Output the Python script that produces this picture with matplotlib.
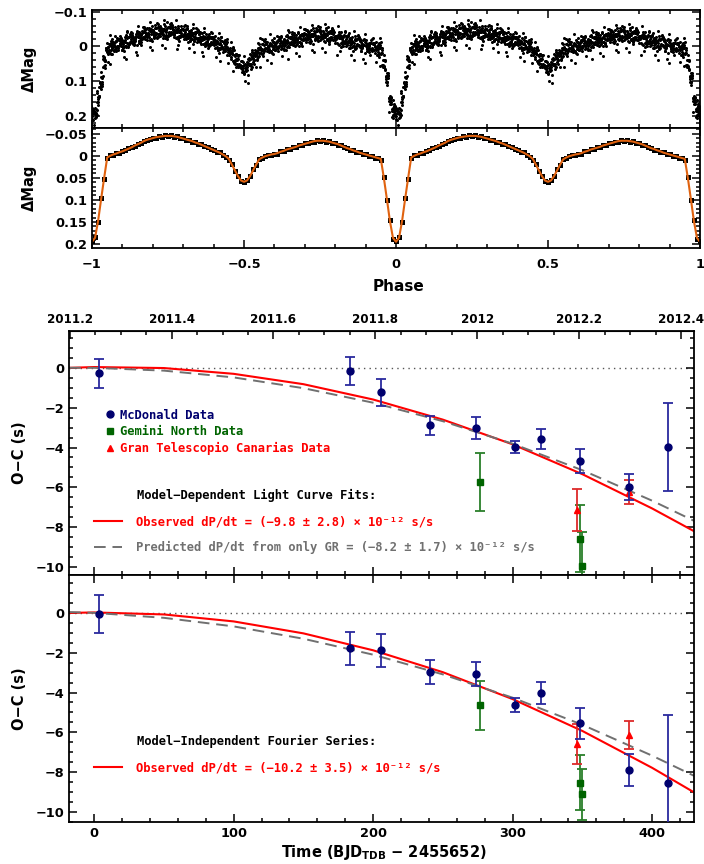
import numpy as np
import matplotlib
matplotlib.use('Agg')
import matplotlib.pyplot as plt
from matplotlib.lines import Line2D
from matplotlib.ticker import MultipleLocator, FuncFormatter, FixedLocator
from matplotlib.font_manager import FontProperties

plt.rcParams['font.family'] = ['DejaVu Sans']
plt.rcParams['font.weight'] = 'bold'

# ---- light curve (phase 0..1, step 0.01) ----
lc_phase = np.round(np.arange(0, 1.001, 0.01), 2)
fit_mag = [0.195, 0.186, 0.148, 0.098, 0.050, 0.004, 0.000, -0.003, -0.005, -0.008,
           -0.010, -0.013, -0.016, -0.019, -0.023, -0.026, -0.029, -0.033, -0.036, -0.038,
           -0.040, -0.042, -0.043, -0.044, -0.045, -0.045, -0.045, -0.044, -0.043, -0.041,
           -0.039, -0.037, -0.035, -0.033, -0.030, -0.028, -0.025, -0.022, -0.019, -0.016,
           -0.013, -0.010, -0.007, -0.003, 0.001, 0.007, 0.020, 0.033, 0.046, 0.056,
           0.059, 0.056, 0.046, 0.033, 0.020, 0.008, 0.004, 0.001, -0.001, -0.003,
           -0.004, -0.006, -0.009, -0.011, -0.014, -0.016, -0.018, -0.020, -0.023, -0.025,
           -0.027, -0.029, -0.031, -0.033, -0.034, -0.034, -0.034, -0.033, -0.032, -0.030,
           -0.028, -0.026, -0.023, -0.020, -0.017, -0.015, -0.012, -0.010, -0.007, -0.005,
           -0.003, -0.001, 0.001, 0.003, 0.005, 0.007, 0.050, 0.098, 0.148, 0.186,
           0.195]
bin_mag = [0.193, 0.184, 0.150, 0.096, 0.052, 0.006, -0.001, -0.002, -0.006, -0.007,
           -0.011, -0.012, -0.017, -0.020, -0.022, -0.027, -0.028, -0.034, -0.035, -0.039,
           -0.041, -0.041, -0.044, -0.043, -0.046, -0.044, -0.046, -0.043, -0.044, -0.040,
           -0.040, -0.036, -0.036, -0.032, -0.031, -0.027, -0.026, -0.021, -0.020, -0.015,
           -0.014, -0.009, -0.008, -0.002, 0.002, 0.009, 0.019, 0.035, 0.045, 0.057,
           0.060, 0.055, 0.047, 0.031, 0.021, 0.007, 0.005, 0.000, -0.002, -0.002,
           -0.005, -0.005, -0.010, -0.010, -0.015, -0.015, -0.019, -0.019, -0.024, -0.024,
           -0.028, -0.028, -0.032, -0.032, -0.035, -0.033, -0.035, -0.032, -0.033, -0.029,
           -0.029, -0.025, -0.024, -0.019, -0.018, -0.014, -0.013, -0.009, -0.008, -0.004,
           -0.004, 0.000, 0.000, 0.004, 0.004, 0.009, 0.048, 0.100, 0.146, 0.188,
           0.193]
# scatter of the raw photometry about each phase step
raw_jit = [-0.47, 0.12, -0.29, 0.38, -0.05, 0.26, -0.41, 0.07, 0.44, -0.18, 0.31, -0.36, 0.02, 0.19,
           -0.23, 0.49, -0.11, 0.35, -0.44, 0.09, -0.31, 0.23, -0.02, 0.41, -0.15, 0.28, -0.39, 0.15, -0.08]
raw_res = [0.006, -0.010, 0.016, -0.003, 0.009, -0.019, 0.002, 0.013, -0.007, 0.021, -0.013, 0.004,
           -0.001, 0.011, -0.022, 0.007, -0.006, 0.017, -0.011, 0.003, 0.040, -0.009, 0.014, -0.015,
           0.000, 0.010, -0.004, 0.019, -0.017, 0.005, -0.032, 0.008, -0.010, 0.012, 0.002, -0.014,
           0.018, -0.002, 0.007, -0.020, 0.025, -0.005, 0.004, -0.012, 0.050, 0.001, -0.007, 0.015,
           -0.009, 0.006, -0.024, 0.011, -0.003]

# ---- O-C timings ----
mcd_t = [3.8, 183.6, 206.0, 240.7, 273.6, 302.0, 320.5, 348.0, 383.6, 411.4]
mcd_oc_lc = [-0.27, -0.15, -1.23, -2.88, -3.02, -3.98, -3.57, -4.68, -5.98, -3.98]
mcd_err_lc = [0.72, 0.70, 0.69, 0.47, 0.57, 0.32, 0.52, 0.62, 0.64, 2.2]
mcd_oc_fs = [-0.05, -1.77, -1.88, -2.97, -3.08, -4.63, -4.02, -5.55, -7.88, -8.52]
mcd_err_fs = [0.95, 0.83, 0.82, 0.59, 0.60, 0.37, 0.55, 0.78, 0.80, 3.4]

gem_t = [276.4, 348.0, 349.8]
gem_oc_lc = [-5.73, -8.57, -9.93]
gem_err_lc = [1.45, 1.7, 1.7]
gem_oc_fs = [-4.65, -8.52, -9.10]
gem_err_fs = [1.23, 1.40, 1.28]

gtc_t = [346.0, 383.6]
gtc_oc_lc = [-7.13, -6.22]
gtc_err_lc = [1.04, 0.60]
gtc_oc_fs = [-6.57, -6.15]
gtc_err_fs = [1.00, 0.70]

# model curves
model_t = [-18, 0, 50, 100, 150, 200, 250, 300, 350, 400, 430]
obs_lc = [0.0, 0.04, -0.01, -0.30, -0.82, -1.59, -2.60, -3.84, -5.34, -7.06, -8.20]
gr_lc = [0.003, 0.0, -0.14, -0.48, -1.02, -1.75, -2.68, -3.81, -5.14, -6.67, -7.68]
obs_fs = [-0.003, 0.02, -0.08, -0.43, -1.03, -1.88, -2.98, -4.33, -5.93, -7.78, -9.01]
gr_fs = [0.04, 0.0, -0.25, -0.68, -1.30, -2.10, -3.09, -4.26, -5.62, -7.17, -8.18]

year_ticks = [2011.2, 2011.4, 2011.6, 2011.8, 2012.0, 2012.2, 2012.4]

navy = '#00006e'
navy_bar = '#2a2a9e'
green = '#006400'
green_bar = '#2a7f2a'
red = '#ff0000'
red_bar = '#dd2a2a'
gray = '#707070'
orange = '#e0620f'


def fmt(v, p):
    if abs(v) < 1e-9:
        return '0'
    return ('%g' % round(v, 3)).replace('-', '\u2212')


def style(ax, top=True):
    ax.tick_params(which='both', direction='in', top=top, right=True, width=1.1, labelsize=9.3)
    ax.tick_params(which='major', length=6)
    ax.tick_params(which='minor', length=3)
    for s in ax.spines.values():
        s.set_linewidth(1.3)


fig = plt.figure(figsize=(7.04, 8.64), dpi=100)
ax_raw = fig.add_axes([0.1307, 0.8519, 0.8636, 0.1366])
ax_bin = fig.add_axes([0.1307, 0.7130, 0.8636, 0.1389])
ax_lc = fig.add_axes([0.0980, 0.3345, 0.8878, 0.2824])
ax_fs = fig.add_axes([0.0980, 0.0486, 0.8878, 0.2859])

# raw light curve
n_per = 12
k = np.repeat(np.arange(100), n_per)
idx = np.arange(100 * n_per)
raw_phase = lc_phase[k] + np.array(raw_jit)[idx % len(raw_jit)] * 0.01
raw_mag = np.array(fit_mag)[k] + np.array(raw_res)[(idx * 7) % len(raw_res)]
ax_raw.plot(np.concatenate([raw_phase - 1, raw_phase, raw_phase + 1]), np.tile(raw_mag, 3),
            'o', color='k', ms=2.2, mew=0)
ax_raw.set_xlim(-1, 1)
ax_raw.set_ylim(0.235, -0.105)
ax_raw.xaxis.set_major_locator(MultipleLocator(0.5))
ax_raw.xaxis.set_minor_locator(MultipleLocator(0.1))
ax_raw.yaxis.set_major_locator(MultipleLocator(0.1))
ax_raw.yaxis.set_minor_locator(MultipleLocator(0.02))
ax_raw.yaxis.set_major_formatter(FuncFormatter(fmt))
ax_raw.set_xticklabels([])
style(ax_raw)

# binned light curve + fit
ax_bin.plot(np.concatenate([lc_phase - 1, lc_phase]), bin_mag + bin_mag, 's', color='k', ms=3.6, mew=0)
ax_bin.plot(np.concatenate([lc_phase - 1, lc_phase]), fit_mag + fit_mag, '-', color=orange, lw=1.5)
ax_bin.set_xlim(-1, 1)
ax_bin.set_ylim(0.209, -0.063)
ax_bin.xaxis.set_major_locator(MultipleLocator(0.5))
ax_bin.xaxis.set_minor_locator(MultipleLocator(0.1))
ax_bin.yaxis.set_major_locator(MultipleLocator(0.05))
ax_bin.yaxis.set_minor_locator(MultipleLocator(0.01))
ax_bin.xaxis.set_major_formatter(FuncFormatter(fmt))
ax_bin.yaxis.set_major_formatter(FuncFormatter(fmt))
style(ax_bin)
ax_bin.tick_params(axis='x', pad=7)

fig.text(29 / 704, 1 - 69 / 864, '\u0394Mag', rotation=90, ha='center', va='center', fontsize=10.5)
fig.text(29 / 704, 1 - 188 / 864, '\u0394Mag', rotation=90, ha='center', va='center', fontsize=10.5)
fig.text(398 / 704, 1 - 286 / 864, 'Phase', ha='center', va='center', fontsize=11)

mono = FontProperties(family='DejaVu Sans Mono', weight='bold', size=8.7)


def day2yr(t):
    return 2011.248 + np.asarray(t) / 365.25


def yr2day(y):
    return (np.asarray(y) - 2011.248) * 365.25


def oc_panel(ax, oc_m, err_m, oc_g, err_g, oc_r, err_r, obs, gr, show_gr):
    ax.axhline(0, color='#555555', ls=(0, (1, 3)), lw=1.0, zorder=1)
    l_obs, = ax.plot(model_t, obs, '-', color=red, lw=1.5, zorder=2)
    l_gr, = ax.plot(model_t, gr, '--', color=gray, lw=1.4, dashes=(6, 3.5), zorder=2)
    ax.errorbar(mcd_t, oc_m, yerr=err_m, fmt='o', color=navy, ecolor=navy_bar, ms=5,
                elinewidth=1.3, capsize=3.5, capthick=1.3, zorder=4)
    ax.errorbar(gem_t, oc_g, yerr=err_g, fmt='s', color=green, ecolor=green_bar, ms=4,
                elinewidth=1.3, capsize=3.5, capthick=1.3, zorder=3)
    ax.errorbar(gtc_t, oc_r, yerr=err_r, fmt='^', color=red, ecolor=red_bar, ms=5,
                elinewidth=1.3, capsize=3.5, capthick=1.3, zorder=3)
    ax.set_xlim(-18, 430)
    ax.xaxis.set_major_locator(MultipleLocator(100))
    ax.xaxis.set_minor_locator(MultipleLocator(20))
    ax.yaxis.set_major_locator(MultipleLocator(2))
    ax.yaxis.set_minor_locator(MultipleLocator(0.5))
    ax.yaxis.set_major_formatter(FuncFormatter(fmt))
    ax.xaxis.set_major_formatter(FuncFormatter(fmt))
    handles = [l_obs, l_gr] if show_gr else [l_obs]
    return handles


# model-dependent panel
h = oc_panel(ax_lc, mcd_oc_lc, mcd_err_lc, gem_oc_lc, gem_err_lc, gtc_oc_lc, gtc_err_lc,
             obs_lc, gr_lc, True)
ax_lc.set_ylim(-10.4, 1.85)
ax_lc.set_xticklabels([])
style(ax_lc, top=False)
sec = ax_lc.secondary_xaxis('top', functions=(day2yr, yr2day))
sec.xaxis.set_major_locator(FixedLocator(year_ticks))
sec.xaxis.set_minor_locator(MultipleLocator(0.05))
sec.xaxis.set_major_formatter(FuncFormatter(lambda v, p: '%g' % round(v, 2)))
sec.tick_params(which='both', direction='in', width=1.1, labelsize=8.6)
sec.tick_params(which='major', length=6)
sec.tick_params(which='minor', length=3)

h_mcd = Line2D([], [], ls='none', marker='o', color=navy, ms=5)
h_gem = Line2D([], [], ls='none', marker='s', color=green, ms=4)
h_gtc = Line2D([], [], ls='none', marker='^', color=red, ms=5)
leg1 = ax_lc.legend([h_mcd, h_gem, h_gtc],
                    ['McDonald Data', 'Gemini North Data', 'Gran Telescopio Canarias Data'],
                    loc='upper left', bbox_to_anchor=(0.056, 0.682), frameon=False, borderpad=0,
                    borderaxespad=0, handlelength=1.0, handletextpad=0.3, labelspacing=0.3,
                    prop=mono, labelcolor=[navy, green, red])
ax_lc.add_artist(leg1)
ax_lc.text(0.109, 0.328, 'Model\u2212Dependent Light Curve Fits:', transform=ax_lc.transAxes,
           fontproperties=mono, va='center', ha='left')
ax_lc.legend(h, ['Observed dP/dt = (\u22129.8 \u00b1 2.8) \u00d7 10\u207b\u00b9\u00b2 s/s',
                 'Predicted dP/dt from only GR = (\u22128.2 \u00b1 1.7) \u00d7 10\u207b\u00b9\u00b2 s/s'],
             loc='upper left', bbox_to_anchor=(0.040, 0.243), frameon=False, borderpad=0,
             borderaxespad=0, handlelength=2.3, handletextpad=1.2, labelspacing=1.05,
             prop=mono, labelcolor=[red, gray])

# model-independent panel
h = oc_panel(ax_fs, mcd_oc_fs, mcd_err_fs, gem_oc_fs, gem_err_fs, gtc_oc_fs, gtc_err_fs,
             obs_fs, gr_fs, False)
ax_fs.set_ylim(-10.5, 1.9)
style(ax_fs)
ax_fs.text(0.109, 0.328, 'Model\u2212Independent Fourier Series:', transform=ax_fs.transAxes,
           fontproperties=mono, va='center', ha='left')
ax_fs.legend(h, ['Observed dP/dt = (\u221210.2 \u00b1 3.5) \u00d7 10\u207b\u00b9\u00b2 s/s'],
             loc='upper left', bbox_to_anchor=(0.040, 0.245), frameon=False, borderpad=0,
             borderaxespad=0, handlelength=2.3, handletextpad=1.2, prop=mono, labelcolor=[red])

fig.text(20 / 704, 1 - 453 / 864, 'O\u2212C (s)', rotation=90, ha='center', va='center', fontsize=10.5)
fig.text(20 / 704, 1 - 699 / 864, 'O\u2212C (s)', rotation=90, ha='center', va='center', fontsize=10.5)
fig.text(384 / 704, 1 - 853 / 864, r'Time (BJD$_{\mathbf{TDB}}$ $\mathbf{-}$ 2455652)',
         ha='center', va='center', fontsize=10.5)

fig.savefig('out.png', dpi=100)
